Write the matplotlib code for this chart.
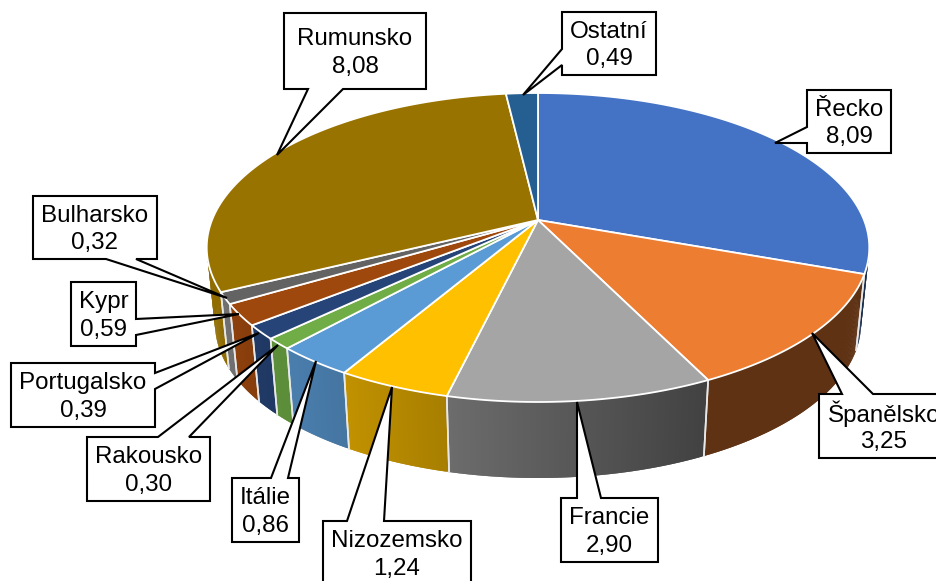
import numpy as np
import matplotlib
matplotlib.use('Agg')
import matplotlib.pyplot as plt
from matplotlib.patches import Polygon
from matplotlib.colors import to_rgb

labels = ['Řecko', 'Španělsko', 'Francie', 'Nizozemsko', 'Itálie', 'Rakousko',
          'Portugalsko', 'Kypr', 'Bulharsko', 'Rumunsko', 'Ostatní']
values = [8.09, 3.25, 2.90, 1.24, 0.86, 0.30, 0.39, 0.59, 0.32, 8.08, 0.49]
colors = ['#4472C4', '#ED7D31', '#A5A5A5', '#FFC000', '#5B9BD5', '#70AD47',
          '#264478', '#9E480E', '#636363', '#997300', '#255E91']

# callouts in pixels: box x0, y0, x1, y1, then pointer base a, b and tip
callouts = {
    'Řecko': (807, 90, 891, 153, (807, 127), (807, 143), (775, 143)),
    'Španělsko': (819, 394, 960, 458, (842, 394), (873, 394), (812, 333)),
    'Francie': (561, 498, 658, 562, (577, 498), (601, 498), (577, 402)),
    'Nizozemsko': (323, 521, 471, 585, (347, 521), (384, 521), (392, 387)),
    'Itálie': (232, 478, 299, 542, (271, 478), (288, 478), (316, 361)),
    'Rakousko': (87, 437, 210, 501, (158, 437), (189, 437), (278, 345)),
    'Portugalsko': (11, 363, 155, 427, (155, 373), (155, 389), (259, 333)),
    'Kypr': (71, 282, 136, 346, (136, 319), (136, 335), (239, 314)),
    'Bulharsko': (33, 196, 157, 259, (106, 259), (136, 259), (227, 298)),
    'Rumunsko': (284, 13, 426, 89, (308, 89), (343, 89), (277, 155)),
    'Ostatní': (562, 12, 656, 75, (562, 49), (562, 65), (523, 95)),
}
text_x = {'Španělsko': 884}
side_gain = {'Bulharsko': 1.25}

cx, cy, a, b, k = 538, 220, 326, 149.6, 0.178


def top_xy(t):
    # t measured clockwise from the back of the pie, with perspective
    X, Y = np.sin(t), -np.cos(t)
    s = 1 / (1 - k * Y)
    return cx + a * X * s, cy + b * Y * s


def bottom_xy(t):
    x, y = top_xy(t)
    return cx + 0.975 * (x - cx), 296 + (y - cy)


def shade(x):
    return np.interp(x, [205, 250, 705], [0.95, 0.85, 0.4])


fig = plt.figure(figsize=(9.37, 5.81), dpi=100)
ax = fig.add_axes([0, 0, 1, 1])
ax.set_xlim(0, 937)
ax.set_ylim(581, 0)
ax.axis('off')
plt.rcParams['font.family'] = 'Liberation Sans'

edges = np.cumsum([0] + values) / sum(values) * 2 * np.pi

# side wall, split in strips so the shading changes from left to right
# every strip runs on under the next one, otherwise seams show between them
for i in range(len(values)):
    t = np.linspace(edges[i], edges[i + 1], max(int((edges[i + 1] - edges[i]) * 150), 3))
    xt, yt = top_xy(t)
    xb, yb = bottom_xy(t)
    for j in range(len(t) - 1):
        e = min(j + 2, len(t) - 1)
        f = shade(0.5 * (xt[j] + xt[j + 1])) * side_gain.get(labels[i], 1)
        c = np.array(to_rgb(colors[i])) * f
        ax.add_patch(Polygon([(xt[j], yt[j]), (xt[j + 1], yt[j + 1]), (xt[e], yt[e]),
                              (xb[e], yb[e]), (xb[j + 1], yb[j + 1]), (xb[j], yb[j])],
                             facecolor=c, edgecolor='none', lw=0, zorder=1))
    for n in (0, -1):
        ax.plot([xt[n], xb[n]], [yt[n], yb[n]], color='#e8e8e8', lw=1.2, zorder=2)

# top face
for i in range(len(values)):
    t = np.linspace(edges[i], edges[i + 1], 80)
    xt, yt = top_xy(t)
    pts = np.column_stack([np.r_[cx, xt], np.r_[cy, yt]])
    ax.add_patch(Polygon(pts, closed=True, facecolor=colors[i], edgecolor='white', lw=1.3, zorder=3))

for name, val in zip(labels, values):
    x0, y0, x1, y1, p, q, tip = callouts[name]
    # walk round the box and put the pointer into the side it sits on
    if p[1] == y0:
        outline = [(x0, y0), p, tip, q, (x1, y0), (x1, y1), (x0, y1)]
    elif p[1] == y1:
        outline = [(x0, y0), (x1, y0), (x1, y1), q, tip, p, (x0, y1)]
    elif p[0] == x0:
        outline = [(x0, y0), (x1, y0), (x1, y1), (x0, y1), q, tip, p]
    else:
        outline = [(x0, y0), (x1, y0), p, tip, q, (x1, y1), (x0, y1)]
    ax.add_patch(Polygon(outline, closed=True, facecolor='white', edgecolor='black',
                         lw=1.5, joinstyle='miter', zorder=5))
    mx = text_x.get(name, (x0 + x1) / 2)
    ym = (y0 + y1) / 2
    txt = f'{val:.2f}'.replace('.', ',')
    ax.text(mx, ym - 12, name, ha='center', va='center', fontsize=17.4, color='black', zorder=6)
    ax.text(mx, ym + 16, txt, ha='center', va='center', fontsize=17.4, color='black', zorder=6)

fig.savefig('out.png', dpi=100)
